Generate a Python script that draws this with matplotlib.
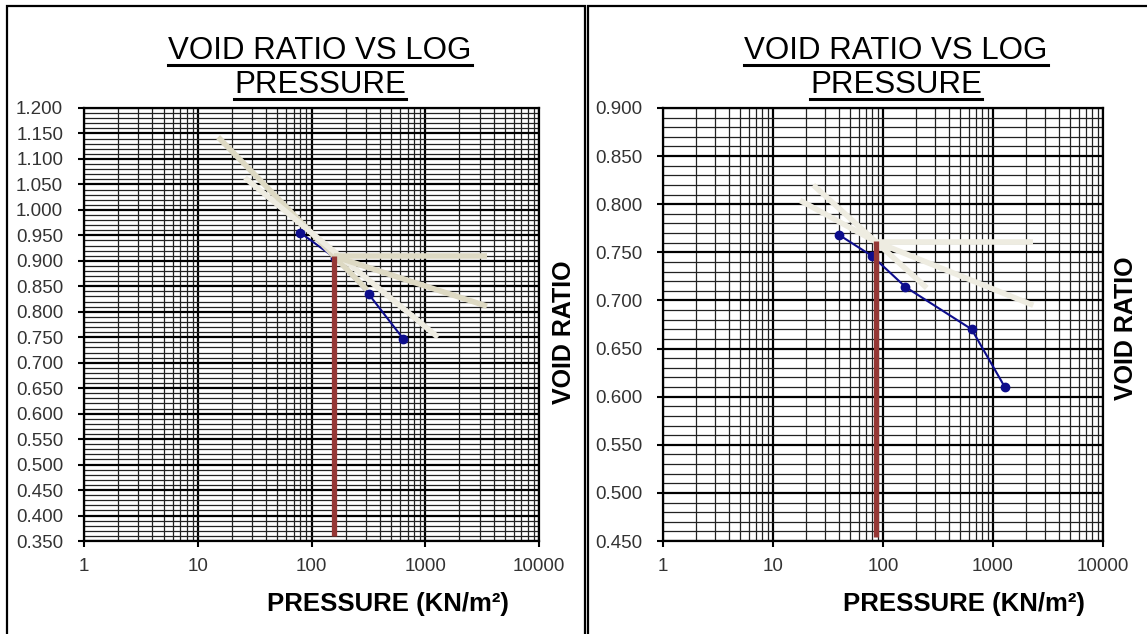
import matplotlib
matplotlib.use("Agg")
import matplotlib.pyplot as plt
from matplotlib.lines import Line2D
from matplotlib.patches import Rectangle
from matplotlib.ticker import MultipleLocator, LogLocator, FixedFormatter, FixedLocator

plt.rcParams['font.family'] = ['Liberation Sans', 'DejaVu Sans']

W, H = 1147, 634

# ---- data ----
left_pressure = [80, 160, 320, 640]
left_void = [0.955, 0.906, 0.834, 0.747]
left_pc = 157
left_pc_top, left_pc_bottom = 0.909, 0.360
left_tangent_x = [15.1, 307]
left_tangent_y = [1.143, 0.843]
left_virgin_x = [26, 1295]
left_virgin_y = [1.063, 0.750]
left_horiz_x = [157, 3490]
left_horiz_y = [0.909, 0.909]
left_bisect_x = [157, 3490]
left_bisect_y = [0.909, 0.811]

right_pressure = [40, 80, 160, 640, 1280]
right_void = [0.768, 0.746, 0.714, 0.670, 0.610]
right_pc = 86
right_pc_top, right_pc_bottom = 0.762, 0.454
right_tangent_x = [23.2, 250]
right_tangent_y = [0.820, 0.713]
right_virgin_x = [17.6, 86]
right_virgin_y = [0.804, 0.761]
right_horiz_x = [86, 2323]
right_horiz_y = [0.761, 0.761]
right_bisect_x = [86, 2323]
right_bisect_y = [0.761, 0.695]

x_ticks = [1, 10, 100, 1000, 10000]
x_labels = ['1', '10', '100', '1000', '10000']


def fx(px):
    return px / W


def fy(py):
    return 1 - py / H


fig = plt.figure(figsize=(W / 100, H / 100), dpi=100)
fig.patch.set_facecolor('white')

# panel frames
fig.patches.append(Rectangle((fx(7), fy(700)), fx(585) - fx(7), fy(6) - fy(700),
                             transform=fig.transFigure, fill=False, lw=1.6, ec='black'))
fig.patches.append(Rectangle((fx(588), fy(700)), fx(1200) - fx(588), fy(6) - fy(700),
                             transform=fig.transFigure, fill=False, lw=1.6, ec='black'))


def setup(ax, ylo, yhi):
    ax.set_xscale('log')
    ax.set_xlim(1, 10000)
    ax.set_ylim(ylo, yhi)
    ax.xaxis.set_major_locator(FixedLocator(x_ticks))
    ax.xaxis.set_major_formatter(FixedFormatter(x_labels))
    ax.xaxis.set_minor_locator(LogLocator(base=10, subs=range(2, 10)))
    ax.yaxis.set_major_locator(MultipleLocator(0.05))
    ax.yaxis.set_minor_locator(MultipleLocator(0.01))
    ax.yaxis.set_major_formatter(plt.FuncFormatter(lambda v, p: f'{v:.3f}'))
    ax.grid(which='major', color='black', lw=1.6)
    ax.grid(which='minor', color='#222222', lw=0.9)
    ax.set_axisbelow(True)
    ax.tick_params(which='major', direction='out', length=4, width=1.5,
                   labelsize=13.5, labelcolor='#333333')
    ax.tick_params(axis='y', which='major', pad=11)
    ax.tick_params(axis='x', which='major', pad=8)
    ax.tick_params(which='minor', length=0)
    for s in ax.spines.values():
        s.set_linewidth(1.6)


def draw(ax, p, e, pc, top, bot, lines, beige):
    for (xs, ys), c in zip(lines, beige):
        ax.plot(xs, ys, color=c, lw=4, solid_capstyle='butt', zorder=4)
    ax.plot(p, e, color='#0D0D8C', lw=1.5, marker='o', ms=6, zorder=3)
    ax.plot([pc, pc], [bot, top], color='#953735', lw=3.8, solid_capstyle='butt', zorder=5)


axL = fig.add_axes([fx(84), fy(541), fx(539) - fx(84), fy(108) - fy(541)])
setup(axL, 0.35, 1.2)
draw(axL, left_pressure, left_void, left_pc, left_pc_top, left_pc_bottom,
     [(left_tangent_x, left_tangent_y), (left_virgin_x, left_virgin_y),
      (left_horiz_x, left_horiz_y), (left_bisect_x, left_bisect_y)],
     ['#DDD9C3', '#EEECE1', '#DDD9C3', '#DDD9C3'])

axR = fig.add_axes([fx(663), fy(541), fx(1103) - fx(663), fy(108) - fy(541)])
setup(axR, 0.45, 0.9)
draw(axR, right_pressure, right_void, right_pc, right_pc_top, right_pc_bottom,
     [(right_tangent_x, right_tangent_y), (right_virgin_x, right_virgin_y),
      (right_horiz_x, right_horiz_y), (right_bisect_x, right_bisect_y)],
     ['#EEECE1', '#EEECE1', '#EEECE1', '#EEECE1'])

# titles, axis labels
titles = []
for cx in (320, 896):
    titles.append(fig.text(fx(cx), fy(51), 'VOID RATIO VS LOG', ha='center', va='center', fontsize=22.5))
    titles.append(fig.text(fx(cx), fy(85), 'PRESSURE', ha='center', va='center', fontsize=22.5))
    fig.text(fx(cx + 68), fy(604), 'PRESSURE (KN/m²)', ha='center', va='center',
             fontsize=18.5, fontweight='bold')

fig.text(fx(564), fy(332), 'VOID RATIO', rotation=90, ha='center', va='center',
         fontsize=18, fontweight='bold')
fig.text(fx(1126), fy(328), 'VOID RATIO', rotation=90, ha='center', va='center',
         fontsize=18, fontweight='bold')

# underline the titles
fig.canvas.draw()
r = fig.canvas.get_renderer()
inv = fig.transFigure.inverted()
for t in titles:
    bb = t.get_window_extent(r)
    x0, y0 = inv.transform((bb.x0, bb.y0 + 1))
    x1, _ = inv.transform((bb.x1, bb.y0 + 1))
    fig.add_artist(Line2D([x0, x1], [y0, y0], transform=fig.transFigure, color='black', lw=2.2))

fig.savefig('out.png', dpi=100)
